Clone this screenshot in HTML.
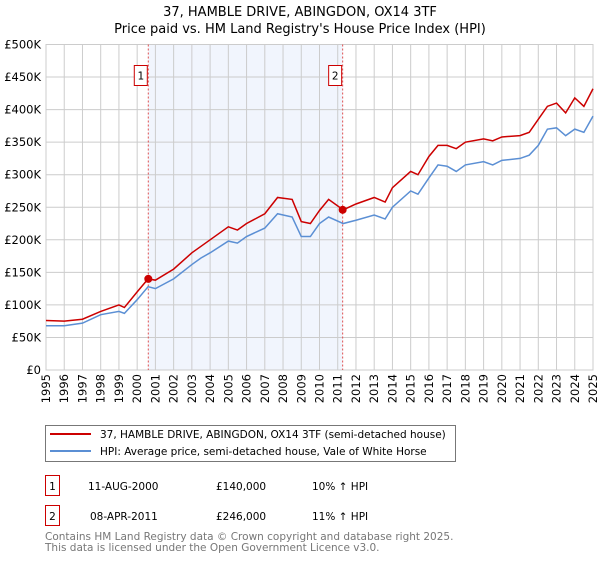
<!DOCTYPE html>
<html><head><meta charset="utf-8"><style>
body{margin:0;background:#fff;font-family:"Liberation Sans","DejaVu Sans",sans-serif;}
svg text{font-family:"DejaVu Sans","Liberation Sans",sans-serif;}
</style></head><body>
<svg id="c" width="600" height="560" xmlns="http://www.w3.org/2000/svg">
<text x="300" y="16" text-anchor="middle" font-size="13">37, HAMBLE DRIVE, ABINGDON, OX14 3TF</text>
<text x="300" y="33" text-anchor="middle" font-size="13">Price paid vs. HM Land Registry's House Price Index (HPI)</text>
<g id="plot"></g>
<rect x="45.5" y="425.5" width="410" height="36" fill="#fff" stroke="#777"/>
<line x1="50" y1="434" x2="91" y2="434" stroke="#cc0000" stroke-width="2"/>
<text x="100" y="438" font-size="10.5">37, HAMBLE DRIVE, ABINGDON, OX14 3TF (semi-detached house)</text>
<line x1="50" y1="451" x2="91" y2="451" stroke="#5b8fd4" stroke-width="2"/>
<text x="100" y="455" font-size="10.5">HPI: Average price, semi-detached house, Vale of White Horse</text>
<g font-size="10.5">
<rect x="45.5" y="475.5" width="14" height="20" fill="#fff" stroke="#cc0000"/>
<text x="52.5" y="490" text-anchor="middle">1</text>
<text x="88" y="490">11-AUG-2000</text>
<text x="216" y="490">£140,000</text>
<text x="312" y="490">10% ↑ HPI</text>
<rect x="45.5" y="505.5" width="14" height="20" fill="#fff" stroke="#cc0000"/>
<text x="52.5" y="520" text-anchor="middle">2</text>
<text x="90" y="520">08-APR-2011</text>
<text x="216" y="520">£246,000</text>
<text x="312" y="520">11% ↑ HPI</text>
</g>
<text x="45" y="540" font-size="10.5" fill="#777">Contains HM Land Registry data © Crown copyright and database right 2025.</text>
<text x="45" y="551" font-size="10.5" fill="#777">This data is licensed under the Open Government Licence v3.0.</text>
</svg>
<script>
const years=[1995,1996,1997,1998,1999,1999.3,2000,2000.6,2001,2002,2003,2003.5,2004,2005,2005.5,2006,2007,2007.7,2008.5,2009,2009.5,2010,2010.5,2011.3,2012,2013,2013.6,2014,2015,2015.4,2016,2016.5,2017,2017.5,2018,2019,2019.5,2020,2021,2021.5,2022,2022.5,2023,2023.5,2024,2024.5,2025];
const propertyK=[76,75,78,90,100,96,120,140,138,155,180,190,200,220,215,225,240,265,262,228,225,245,262,246,255,265,258,280,305,300,328,345,345,340,350,355,352,358,360,365,385,405,410,395,418,405,432];
const hpiK=[68,68,72,85,90,87,108,128,125,140,162,172,180,198,195,205,218,240,235,205,205,225,235,225,230,238,232,250,275,270,295,315,313,305,315,320,315,322,325,330,345,370,372,360,370,365,390];
const yTicks=[0,50,100,150,200,250,300,350,400,450,500];
const xTickYears=[1995,1996,1997,1998,1999,2000,2001,2002,2003,2004,2005,2006,2007,2008,2009,2010,2011,2012,2013,2014,2015,2016,2017,2018,2019,2020,2021,2022,2023,2024,2025];
const sales=[{t:2000.61,v:140,n:"1"},{t:2011.27,v:246,n:"2"}];
const L=46,R=593,T=44.5,B=370;
const x=t=>L+(t-1995)/30*(R-L), y=v=>B-v/500*(B-T);
const g=document.getElementById('plot'),NS="http://www.w3.org/2000/svg";
function el(tag,attrs,parent){const e=document.createElementNS(NS,tag);for(const k in attrs)e.setAttribute(k,attrs[k]);(parent||g).appendChild(e);return e;}
const shade=el('rect',{x:x(sales[0].t),y:T,width:x(sales[1].t)-x(sales[0].t),height:B-T,fill:'#eef3fc',opacity:0.8});


yTicks.forEach(v=>{
 const ln=el('line',{x1:L,x2:R,y1:y(v),y2:y(v),stroke:'#ccc'});
 
 
 const tx=el('text',{x:L-5,y:y(v)+4,'text-anchor':'end','font-size':'11.5'});
 tx.textContent=v===0?'£0':'£'+v+'K';
 
 
});
xTickYears.forEach(t=>{
 const ln=el('line',{x1:x(t),x2:x(t),y1:T,y2:B,stroke:'#ccc'});
 
 
 const tx=el('text',{x:0,y:0,'text-anchor':'end','font-size':'11.5',transform:'translate('+(x(t)+4)+',374) rotate(-90)'});
 tx.textContent=t;
 
 
});
const frame=el('rect',{x:L,y:T,width:R-L,height:B-T,fill:'none',stroke:'#ccc'});


sales.forEach(s=>{
 const vl=el('line',{x1:x(s.t),x2:x(s.t),y1:T,y2:B,stroke:'#e05050','stroke-dasharray':'2,2'});
 
 
 const bx=el('rect',{x:x(s.t)-14,y:T+21,width:13,height:20,fill:'#fff',stroke:'#cc0000'});
 
 
 const bt=el('text',{x:x(s.t)-7.5,y:T+35,'text-anchor':'middle','font-size':'10.5'});
 bt.textContent=s.n;
 
 
});
function line(vals,col,name){
 const p=el('polyline',{points:years.map((t,i)=>x(t)+','+y(vals[i])).join(' '),fill:'none',stroke:col,'stroke-width':1.5});
 
 
}
line(hpiK,'#5b8fd4','hpi-line');
line(propertyK,'#cc0000','property-line');
sales.forEach(s=>{
 const c=el('circle',{cx:x(s.t),cy:y(s.v),r:4,fill:'#cc0000'});
 
 
});
</script>
</body></html>
